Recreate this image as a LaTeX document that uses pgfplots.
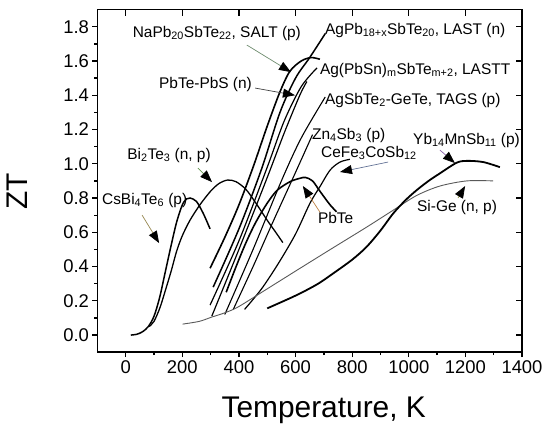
\documentclass[border=0pt]{standalone}
\usepackage{fontspec}
\setmainfont{Liberation Sans}
\usepackage{pgfplots}
\pgfplotsset{compat=1.18}
\usetikzlibrary{arrows.meta}
\newcommand{\annot}{\fontsize{15.5}{17}\selectfont}
\begin{document}
\begin{tikzpicture}
\useasboundingbox (-97.4bp,-80.8bp) rectangle (448.6bp,352.2bp);
\begin{axis}[
  name=ax, at={(0,0)}, anchor=south west,
  scale only axis, width=424.6bp, height=342.6bp,
  xmin=-100, xmax=1400, ymin=-0.1, ymax=1.9,
  xtick={0,200,...,1400}, minor x tick num=1,
  ytick={0,0.2,0.4,0.6,0.8,1.0,1.2,1.4,1.6,1.8}, minor y tick num=1,
  xtick pos=bottom, ytick pos=left, tick align=outside,
  major tick length=5bp, minor tick length=3bp,
  every tick/.style={black, line width=1.3bp},
  axis line style={line width=1.7bp},
  /pgf/number format/assume math mode=true,
  yticklabel style={/pgf/number format/.cd,fixed,fixed zerofill,precision=1},
  xticklabel style={/pgf/number format/.cd,fixed,1000 sep={}},
  tick label style={font=\fontsize{18.5}{20}\selectfont},
  xlabel={Temperature, K}, ylabel={ZT},
  label style={font=\fontsize{30}{32}\selectfont},
  xlabel style={at={(axis description cs:0.533,-0.169)},anchor=center},
  ylabel style={at={(axis description cs:-0.19,0.47)},anchor=center},
  clip=false,
]
% CsBi4Te6
\addplot[black, line width=1.5bp, smooth] coordinates {
(18,0.0)(40,0.005)(60,0.02)(80,0.05)(100,0.11)(120,0.22)(140,0.37)(160,0.52)(180,0.66)(200,0.76)(215,0.795)(228,0.80)(250,0.78)(274,0.71)(298,0.62)};
% Bi2Te3
\addplot[black, line width=1.3bp, smooth] coordinates {
(83,0.05)(100,0.08)(121,0.16)(140,0.26)(160,0.37)(180,0.49)(200,0.58)(227,0.67)(262,0.76)(300,0.84)(330,0.885)(360,0.905)(390,0.895)(425,0.85)(460,0.77)(500,0.67)(530,0.60)(555,0.54)};
% PbTe
\addplot[black, line width=1.6bp, smooth] coordinates {
(355,0.25)(390,0.40)(425,0.54)(460,0.66)(500,0.77)(535,0.845)(580,0.895)(615,0.915)(635,0.92)(660,0.90)(686,0.84)(722,0.76)(745,0.72)};
% SALT
\addplot[black, line width=1.6bp, smooth] coordinates {
(298,0.39)(350,0.57)(400,0.76)(450,0.98)(500,1.22)(545,1.42)(580,1.54)(620,1.60)(655,1.62)(686,1.61)};
% LAST
\addplot[black, line width=1.5bp, smooth] coordinates {
(309,0.28)(400,0.62)(480,0.97)(545,1.30)(600,1.50)(650,1.62)(705,1.76)};
% LASTT
\addplot[black, line width=1.2bp, smooth] coordinates {
(298,0.175)(400,0.55)(500,0.98)(560,1.25)(620,1.45)(676,1.56)};
% PbTe-PbS
\addplot[black, line width=1.2bp, smooth] coordinates {
(304,0.11)(400,0.50)(500,0.92)(560,1.18)(615,1.40)(640,1.48)};
% TAGS
\addplot[black, line width=1.1bp, smooth] coordinates {
(350,0.12)(450,0.50)(550,0.90)(620,1.15)(705,1.39)};
% Zn4Sb3
\addplot[black, line width=1.1bp, smooth] coordinates {
(380,0.15)(450,0.40)(520,0.66)(600,0.95)(660,1.17)};
% CeFe3CoSb12
\addplot[black, line width=1.2bp, smooth] coordinates {
(420,0.15)(480,0.27)(540,0.42)(600,0.59)(651,0.77)(686,0.866)(722,0.963)(757,1.01)(792,1.026)};
% Si-Ge
\addplot[black!65, line width=0.9bp, smooth] coordinates {
(201,0.064)(260,0.08)(304,0.105)(350,0.13)(398,0.165)(500,0.27)(616,0.39)(733,0.51)(851,0.63)(946,0.73)(1028,0.815)(1110,0.87)(1205,0.90)(1298,0.90)};
% Yb14MnSb11
\addplot[black, line width=1.8bp, smooth] coordinates {
(500,0.156)(560,0.20)(616,0.243)(680,0.30)(733,0.36)(800,0.44)(851,0.515)(900,0.61)(945,0.71)(990,0.79)(1028,0.846)(1070,0.90)(1110,0.944)(1169,1.006)(1205,1.017)(1263,1.01)(1322,0.98)};

% annotations
\tikzset{arr/.style={line width=0.7bp, -{Triangle[length=12bp,width=9bp,color=black]}}}
\node[font=\annot, anchor=center] at (axis cs:322,1.763) {NaPb\textsubscript{20}SbTe\textsubscript{22}, SALT (p)};
\draw[arr, draw={rgb,255:red,110;green,140;blue,110}] (axis cs:428,1.693) -- (axis cs:584,1.535);
\node[font=\annot, anchor=center] at (axis cs:282,1.46) {PbTe-PbS (n)};
\draw[arr, draw=black!75] (axis cs:457,1.442) -- (axis cs:598,1.40);
\node[font=\annot, anchor=west, inner sep=0pt] at (axis cs:704,1.78) {AgPb\textsubscript{18+x}SbTe\textsubscript{20}, LAST (n)};
\node[font=\annot, anchor=west, inner sep=0pt] at (axis cs:686,1.547) {Ag(PbSn)\textsubscript{m}SbTe\textsubscript{m+2}, LASTT};
\node[font=\annot, anchor=west, inner sep=0pt] at (axis cs:704,1.372) {AgSbTe\textsubscript{2}-GeTe, TAGS (p)};
\node[font=\annot, anchor=west, inner sep=0pt] at (axis cs:658,1.167) {Zn\textsubscript{4}Sb\textsubscript{3} (p)};
\node[font=\annot, anchor=west, inner sep=0pt] at (axis cs:690,1.062) {CeFe\textsubscript{3}CoSb\textsubscript{12}};
\draw[arr, draw={rgb,255:red,100;green,115;blue,150}] (axis cs:927,1.01) -- (axis cs:757,0.952);
\node[font=\annot, anchor=west, inner sep=0pt] at (axis cs:1015,1.138) {Yb\textsubscript{14}MnSb\textsubscript{11} (p)};
\draw[arr, draw={rgb,255:red,140;green,100;blue,170}] (axis cs:1110,1.08) -- (axis cs:1163,1.004);
\node[font=\annot, anchor=west, inner sep=0pt] at (axis cs:1029,0.747) {Si-Ge (n, p)};
\draw[arr, draw={rgb,255:red,140;green,140;blue,60}] (axis cs:1174,0.80) -- (axis cs:1199,0.87);
\node[font=\annot, anchor=west, inner sep=0pt] at (axis cs:679,0.683) {PbTe};
\draw[arr, draw={rgb,255:red,190;green,130;blue,70}] (axis cs:686,0.718) -- (axis cs:626,0.87);
\node[font=\annot, anchor=west, inner sep=0pt] at (axis cs:5,1.05) {Bi\textsubscript{2}Te\textsubscript{3} (n, p)};
\draw[arr, draw={rgb,255:red,100;green,150;blue,80}] (axis cs:255,0.975) -- (axis cs:305,0.893);
\node[font=\annot, anchor=west, inner sep=0pt] at (axis cs:-84,0.788) {CsBi\textsubscript{4}Te\textsubscript{6} (p)};
\draw[arr, draw={rgb,255:red,150;green,135;blue,80}] (axis cs:58,0.70) -- (axis cs:118,0.537);
\end{axis}
\begin{axis}[
  at={(0,0)}, anchor=south west,
  scale only axis, width=424.6bp, height=342.6bp,
  xmin=-100, xmax=1400, ymin=-0.1, ymax=1.9,
  xtick={0,200,...,1400}, ytick={0,0.2,0.4,0.6,0.8,1.0,1.2,1.4,1.6,1.8},
  xtick pos=top, ytick pos=right, tick align=inside,
  major tick length=6bp,
  every tick/.style={black, line width=1.3bp},
  xticklabels={}, yticklabels={},
  axis line style={draw=none},
]
\end{axis}
\end{tikzpicture}
\end{document}
